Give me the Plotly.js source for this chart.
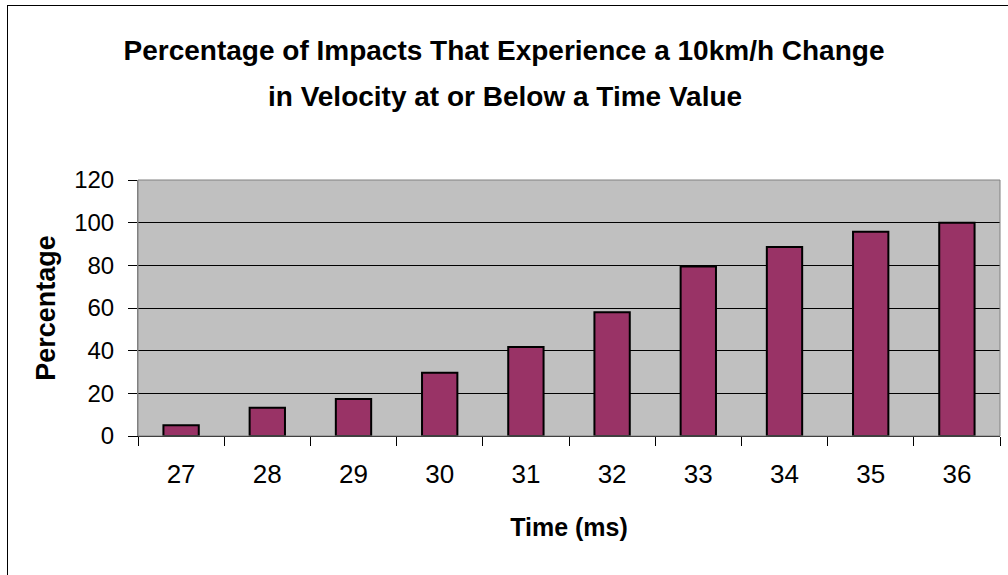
<!DOCTYPE html>
<html>
<head>
<meta charset="utf-8">
<script src="https://cdn.plot.ly/plotly-3.0.1.min.js"></script>
<style>
  html, body { margin: 0; padding: 0; background: #fff; }
  #wrap { position: relative; width: 1008px; height: 575px; }
  #chart { position: absolute; left: 0; top: 0; width: 1008px; height: 575px; }
  #frame { position: absolute; left: 7px; top: 5px; width: 1001px; height: 570px;
           border-left: 1px solid #000; border-top: 1px solid #000; pointer-events: none; }
</style>
</head>
<body>
<div id="wrap">
  <div id="chart"></div>
  <div id="frame"></div>
</div>
<script>
// Data
const timeCategories = ['27', '28', '29', '30', '31', '32', '33', '34', '35', '36'];
const percentages = [5, 13.3, 17.3, 29.7, 41.7, 58, 79.4, 88.6, 95.8, 100];
const yTickValues = [0, 20, 40, 60, 80, 100, 120];

const titleLine1 = 'Percentage of Impacts That Experience a 10km/h Change';
const titleLine2 = 'in Velocity at or Below a Time Value';
const xTitle = 'Time (ms)';
const yTitle = 'Percentage';

const FONT = '"Liberation Sans", Arial, sans-serif';

const trace = {
  type: 'bar',
  x: timeCategories,
  y: percentages,
  marker: { color: '#993366', line: { color: '#000000', width: 2 } },
  hoverinfo: 'x+y'
};

const layout = {
  width: 1008,
  height: 575,
  margin: { l: 138, r: 8, t: 180, b: 139 },
  paper_bgcolor: '#ffffff',
  plot_bgcolor: '#c0c0c0',
  showlegend: false,
  bargap: 0.59,
  font: { family: FONT, color: '#000' },
  title: {
    text: '<b>' + titleLine1 + '</b>',
    font: { family: FONT, size: 28, color: '#000' },
    x: 0.5, xref: 'container', xanchor: 'center',
    y: 1 - 50 / 575, yref: 'container', yanchor: 'middle'
  },
  annotations: [{
    text: '<b>' + titleLine2 + '</b>',
    font: { family: FONT, size: 28, color: '#000' },
    xref: 'paper', yref: 'paper',
    x: (505 - 138) / 862, y: 1 + (180 - 96) / 256,
    xanchor: 'center', yanchor: 'middle', showarrow: false
  }],
  xaxis: {
    type: 'category',
    tickson: 'boundaries',
    ticks: 'outside', ticklen: 9, tickwidth: 1, tickcolor: '#000',
    ticklabelstandoff: 15,
    tickfont: { family: FONT, size: 26, color: '#000' },
    showline: true, linecolor: '#000', linewidth: 1,
    showgrid: false, zeroline: false,
    title: { text: '<b>' + xTitle + '</b>', font: { family: FONT, size: 25, color: '#000' }, standoff: 30 }
  },
  yaxis: {
    range: [0, 120],
    tickvals: yTickValues,
    ticks: 'outside', ticklen: 9, tickwidth: 1, tickcolor: '#000',
    ticklabelstandoff: 9,
    tickfont: { family: FONT, size: 24, color: '#000' },
    showline: true, linecolor: '#808080', linewidth: 1,
    showgrid: true, gridcolor: '#000', gridwidth: 1,
    zeroline: false,
    title: { text: '<b>' + yTitle + '</b>', font: { family: FONT, size: 27, color: '#000' }, standoff: 10 }
  },
  shapes: [{
    type: 'rect', xref: 'paper', yref: 'paper', x0: 0, x1: 1, y0: 0, y1: 1,
    line: { color: '#808080', width: 1 }, fillcolor: 'rgba(0,0,0,0)', layer: 'above'
  }]
};

Plotly.newPlot('chart', [trace], layout, { displayModeBar: false, staticPlot: true });
</script>
</body>
</html>
